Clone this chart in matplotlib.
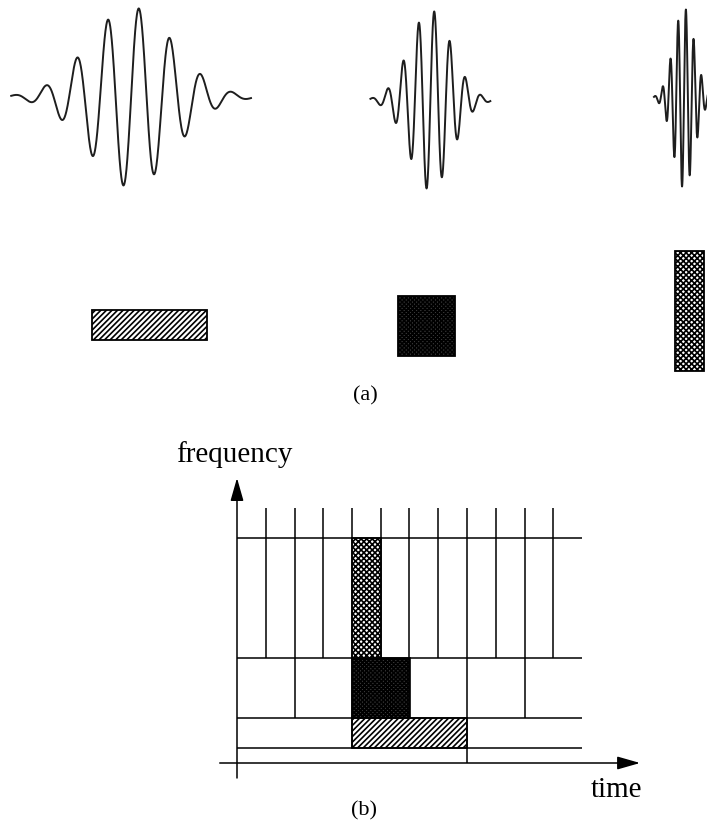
import numpy as np
import matplotlib
matplotlib.use("Agg")
import matplotlib.pyplot as plt
from matplotlib.patches import Rectangle, FancyArrowPatch

plt.rcParams['font.family'] = ['Liberation Serif', 'DejaVu Serif']
plt.rcParams['hatch.linewidth'] = 1.2

# pixels per time unit / per frequency unit (both panels share the same scale)
PX_T = 28.75
PX_F = 15.0
W, H = 707, 832

# --- (a) wavelets at three scales ---
wave_centres = [4.56, 14.97, 23.79]      # time units
wave_baseline = [20.87, 20.67, 20.80]    # freq units
wave_scales = [1.0, 0.5, 0.25]
base_period = 1.078
base_sigma = 1.46
base_halfspan = 4.17
wave_amp = 6.0

# --- (a) tiles of each wavelet ---
box_cx = [5.20, 14.83, 23.98]
box_cy = [5.70, 5.60, 6.63]
box_w = [4, 2, 1]
box_h = [2, 4, 8]
box_hatch = ['//////', 'xxxxxxxx', 'xxxxxx']
box_face = ['white', '#3c3c3c', 'white']

# --- (b) dyadic time-frequency tiling ---
band_low = [0, 1, 3, 7]
band_line_top = [1, 3, 7, 17]
band_step = [8, 4, 2, 1]
band_edges = [1, 3, 7, 15]
t_end = 12
tile_band = [1, 2, 3]
tile_start = [4, 4, 4]

fig = plt.figure(figsize=(W / 100, H / 100), dpi=100)

# panel (a)
top_a = 410
ax_a = fig.add_axes([0, 1 - top_a / H, 1, top_a / H])
ax_a.set_xlim(0, W / PX_T)
ax_a.set_ylim(0, top_a / PX_F)
ax_a.axis('off')

for c, base, s in zip(wave_centres, wave_baseline, wave_scales):
    t = np.linspace(-base_halfspan * s, base_halfspan * s, 800)
    y = np.exp(-t ** 2 / (2 * (base_sigma * s) ** 2)) * np.sin(2 * np.pi * t / (base_period * s))
    ax_a.plot(c + t, base + wave_amp * y, color='#1e1e1e', lw=1.4)

for cx, cy, w, h, hat, fc in zip(box_cx, box_cy, box_w, box_h, box_hatch, box_face):
    ax_a.add_patch(Rectangle((cx - w / 2, cy - h / 2), w, h, facecolor=fc,
                             edgecolor='black', hatch=hat, lw=1.3))

ax_a.text(365 / PX_T, (top_a - 396) / PX_F, '(a)', ha='center', va='center', fontsize=16)

# panel (b)
x0, x1 = -1.0, 14.5
y0, y1 = -2.5, 21.0
left_px = 237 + x0 * PX_T
bot_px = 763 - y0 * PX_F
ax_b = fig.add_axes([left_px / W, 1 - bot_px / H, (x1 - x0) * PX_T / W, (y1 - y0) * PX_F / H])
ax_b.set_xlim(x0, x1)
ax_b.set_ylim(y0, y1)
ax_b.axis('off')

# band 1 -> long low-frequency tile (box 0), band 3 -> short high-frequency tile (box 2)
for b, t0 in zip(tile_band, tile_start):
    ax_b.add_patch(Rectangle((t0, band_low[b]), band_step[b], band_edges[b] - band_low[b],
                             facecolor=box_face[b - 1], edgecolor='black',
                             hatch=box_hatch[b - 1], lw=1.2, zorder=1))

for lo, hi, step in zip(band_low, band_line_top, band_step):
    ax_b.vlines(np.arange(step, t_end, step), lo, hi, color='black', lw=1.1, zorder=2)
ax_b.hlines(band_edges, 0, t_end, color='black', lw=1.1, zorder=2)

for start, end in [((0, -1), (0, 19)), ((-0.6, 0), (14.02, 0))]:
    ax_b.add_patch(FancyArrowPatch(start, end, arrowstyle='-|>,head_length=1.4,head_width=0.4',
                                   mutation_scale=10, color='black', lw=1.1,
                                   shrinkA=0, shrinkB=0, zorder=3))

ax_b.text(-0.1, 20.07, 'frequency', ha='center', va='baseline', fontsize=21)
ax_b.text(13.2, -2.27, 'time', ha='center', va='baseline', fontsize=21)
ax_b.text(4.42, -3.2, '(b)', ha='center', va='center', fontsize=16)

fig.savefig('out.png', dpi=100)
